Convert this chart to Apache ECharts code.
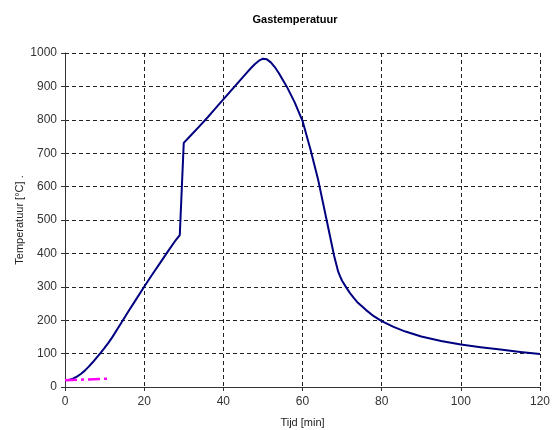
<!DOCTYPE html>
<html>
<head>
<meta charset="utf-8">
<script src="https://cdn.jsdelivr.net/npm/echarts@6/dist/echarts.min.js"></script>
<style>html,body{margin:0;padding:0;background:#fff}#c{width:553px;height:430px}</style>
</head>
<body>
<div id="c"></div>
<script>
var titleText = 'Gastemperatuur';
var xName = 'Tijd [min]';
var yName = 'Temperatuur [°C] .';
var gasTime = [0,1,2,3,4,5,6,7,8,9,10,11,12,14,16,18,20,22,24,26,28,29,30,32,34,36,38,40,42,44,46,47,48,49,49.5,50,51,52,53,54,56,58,60,62,64,66,68,69,69.5,70,71,72,73,74,76,78,80,83,86,90,95,100,105,110,115,120];
var gasTemp = [20,21,25,31,39,49,61,74,88,102,117,133,150,188,226,263,300,336,371,406,440,455,731,756,781,807,834,861,888,915,942,955,967,977,982,983,981,972,958,940,900,853,797,712,618,505,392,346,331,318,299,281,266,252,231,212,197,180,166,151,138,127,119,112,105,99];
var refTime = [0,11];
var refTemp = [20,25];

function pairs(xs, ys){ return xs.map(function(x,i){ return [x, ys[i]]; }); }

var chart = echarts.init(document.getElementById('c'));
chart.setOption({
  animation: false,
  backgroundColor: '#fff',
  title: {
    text: titleText, left: 290, top: 9, textAlign: 'center',
    textStyle: {fontFamily: 'Liberation Sans', fontSize: 11, fontWeight: 'bold', color: '#000'}
  },
  grid: {left: 65, right: 13, top: 53, bottom: 43, outerBoundsMode: 'none', containLabel: false},
  xAxis: {
    type: 'value', min: 0, max: 120, interval: 20,
    name: xName, nameLocation: 'middle', nameGap: 30, nameMoveOverlap: false,
    nameTextStyle: {fontFamily: 'Liberation Sans', fontSize: 11, color: '#222'},
    axisLine: {show: true, onZero: false, lineStyle: {color: '#333', width: 1}},
    axisTick: {show: true, length: 4, lineStyle: {color: '#333'}},
    axisLabel: {fontFamily: 'Liberation Sans', fontSize: 12, color: '#333', margin: 9,
      formatter: function(v){ return String(v); }},
    splitLine: {show: true, lineStyle: {color: '#222', type: [4,3], width: 1}}
  },
  yAxis: {
    type: 'value', min: 0, max: 1000, interval: 100,
    name: yName, nameLocation: 'middle', nameGap: 40, nameRotate: 90, nameMoveOverlap: false,
    nameTextStyle: {fontFamily: 'Liberation Sans', fontSize: 11, color: '#222'},
    axisLine: {show: true, lineStyle: {color: '#333', width: 1}},
    axisTick: {show: true, length: 4, lineStyle: {color: '#333'}},
    axisLabel: {fontFamily: 'Liberation Sans', fontSize: 12, color: '#333', margin: 8,
      formatter: function(v){ return String(v); }},
    splitLine: {show: true, lineStyle: {color: '#222', type: [4,3], width: 1}}
  },
  series: [
    {
      type: 'line', data: pairs(gasTime, gasTemp), showSymbol: false, smooth: false,
      lineStyle: {color: '#000080', width: 2, join: 'round'}, z: 3
    },
    {
      type: 'line', data: pairs(refTime, refTemp), showSymbol: false,
      lineStyle: {color: '#FF00FF', width: 2.5, type: [12,4,3,4]}, z: 4
    }
  ]
});
</script>
</body>
</html>
